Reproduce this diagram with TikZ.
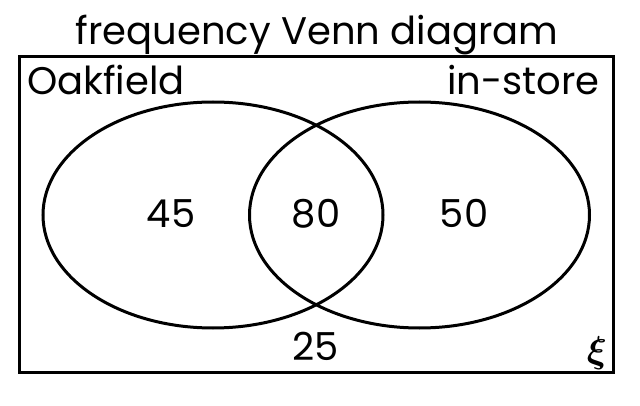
\documentclass[tikz,border=0pt]{standalone}
\usepackage{fontspec}
\usepackage{amsmath}
\usepackage{bm}
\usepackage{graphicx}
\setmainfont{Poppins}
\usetikzlibrary{shapes.geometric}
\tikzset{
  setline/.style={draw=black, line width=3pt},
  setellipse/.style={setline, ellipse, minimum width=340pt, minimum height=226pt, inner sep=0pt, outer sep=0pt},
  lbl/.style={font=\fontsize{38.5}{42}\selectfont, inner sep=0pt, text=black},
}
\begin{document}
\begin{tikzpicture}[x=1pt,y=-1pt]
\useasboundingbox (0,0) rectangle (640,406);
\node[setline, rectangle, minimum width=594pt, minimum height=315pt, inner sep=0pt, outer sep=0pt] (U) at (316,214.5) {};
\node[setellipse] (A) at (213,215) {};
\node[setellipse] (B) at (419.5,215) {};
\node[lbl, anchor=base] (title) at (317,45) {frequency Venn diagram};
\node[lbl, anchor=base west] (oak) at (27,95) {Oakfield};
\node[lbl, anchor=base east] (store) at (600,95) {in-store};
\node[lbl, anchor=base] (n45) at (171,228) {45};
\node[lbl, anchor=base] (n80) at (316,228) {80};
\node[lbl, anchor=base] (n50) at (464,228) {50};
\node[lbl, anchor=base] (n25) at (316,360) {25};
\node[inner sep=0pt, anchor=base, font=\fontsize{24}{26}\selectfont] (xi) at (597,362) {\scalebox{1.5}{$\bm{\xi}$}};
\end{tikzpicture}
\end{document}
